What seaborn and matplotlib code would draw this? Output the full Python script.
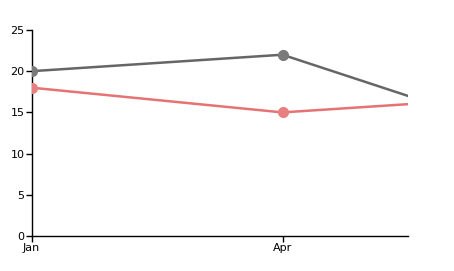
import matplotlib
matplotlib.use("Agg")
import matplotlib.pyplot as plt
import seaborn as sns
import pandas as pd

months = ["Jan", "Apr", "Jul"]
month_pos = [0, 3, 6]
series_a = [20, 22, 12]
series_b = [18, 15, 17]
y_ticks = [0, 5, 10, 15, 20, 25]

df = pd.DataFrame({
    "x": month_pos * 2,
    "y": series_a + series_b,
    "s": ["A"] * len(months) + ["B"] * len(months),
})

sns.set_style("white")
plt.rcParams["font.family"] = ["DejaVu Sans"]

fig = plt.figure(figsize=(4.54, 2.71), dpi=100)
ax = fig.add_axes([31.5 / 454, 35 / 271, (408 - 31.5) / 454, 206 / 271])

sns.lineplot(data=df, x="x", y="y", hue="s", palette={"A": "#666666", "B": "#e57373"},
             linewidth=1.8, legend=False, ax=ax)
for vals, mc in [(series_a, "#7a7a7a"), (series_b, "#e88080")]:
    ax.plot(month_pos, vals, linestyle="none", marker="o", markersize=7,
            color=mc, clip_on=False if False else True, zorder=3)

ax.set_xlim(0, 4.5)
ax.set_ylim(0, 25)
ax.set_xticks(month_pos[:2])
ax.set_xticklabels(months[:2])
ax.set_yticks(y_ticks)
ax.set_xlabel("")
ax.set_ylabel("")
for side in ["top", "right"]:
    ax.spines[side].set_visible(False)
for side in ["left", "bottom"]:
    ax.spines[side].set_color("black")
    ax.spines[side].set_linewidth(1)
ax.tick_params(axis="both", direction="out", length=4, width=1, color="black",
               labelsize=8, labelcolor="black", pad=1, left=True, bottom=True)

fig.savefig("out.png", dpi=100)
